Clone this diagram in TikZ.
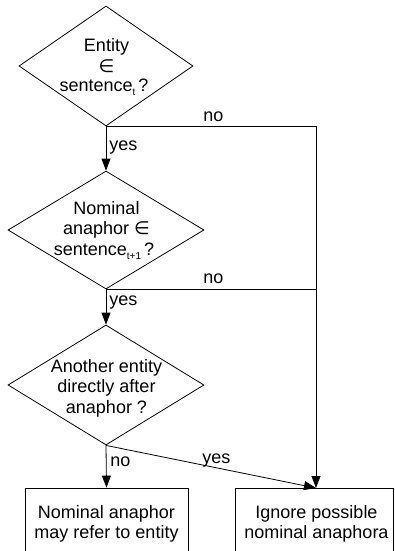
\documentclass[tikz,border=0pt]{standalone}
\usepackage{fontspec}
\setmainfont{Liberation Sans}
\newfontfamily\symfont{DejaVu Sans}
\usetikzlibrary{shapes.geometric,arrows.meta}
\newcommand{\sbs}[1]{\raisebox{-4pt}{\fontsize{10}{10}\selectfont #1}}
\begin{document}
\begin{tikzpicture}[x=1pt,y=-1pt,
  line width=0.8pt,
  dec/.style={draw, shape=diamond, inner sep=0pt, minimum width=#1},
  txt/.style={anchor=base, inner sep=0pt, font=\fontsize{18}{20}\selectfont},
  lbl/.style={anchor=base west, inner sep=0pt, font=\fontsize{18}{20}\selectfont},
  boxn/.style={draw, inner sep=0pt},
  arr/.style={-{Triangle[length=12pt,width=9pt]}}]
\clip (0,0) rectangle (394,551);
% diamonds
\node[dec=174pt, minimum height=120pt] (d1) at (106,66) {};
\node[txt] (t1a) at (106.5,52) {Entity};
\node[txt] (t1b) at (106.5,72) {\symfont ∈};
\node[txt] (t1c) at (104,92) {sentence\sbs{t}\,?};
\node[dec=196pt, minimum height=118pt] (d2) at (106,230) {};
\node[txt] (t2a) at (106.5,214) {Nominal};
\node[txt] (t2b) at (106.5,234) {anaphor {\symfont ∈}};
\node[txt] (t2c) at (104,255) {sentence\sbs{t+1}\,?};
\node[dec=196pt, minimum height=120pt] (d3) at (106,385) {};
\node[txt] (t3a) at (106.5,372) {Another entity};
\node[txt] (t3b) at (106.5,392) {directly after};
\node[txt] (t3c) at (106.5,413) {anaphor ?};
% boxes
\node[boxn, minimum width=163pt, minimum height=72pt] (l) at (106.5,524) {};
\node[txt] (l1) at (106.5,518) {Nominal anaphor};
\node[txt] (l2) at (106.5,538) {may refer to entity};
\node[boxn, minimum width=158pt, minimum height=72pt] (r) at (314,524) {};
\node[txt] (r1) at (316.5,518) {Ignore possible};
\node[txt] (r2) at (316.5,538) {nominal anaphora};
\coordinate (rin) at (316,488);
% connectors
\draw[arr] (d1.south) -- (d2.north);
\draw[arr] (d2.south) -- (d3.north);
\draw[arr] (d3.south) -- (l.north);
\draw[arr] (d1.south) -| (rin);
\draw (d2.south) -- (d2.south -| rin);
\draw[arr] (d3.south) -- (rin);
% labels
\node[lbl] (n1) at (203,121) {no};
\node[lbl] (y1) at (109,150) {yes};
\node[lbl] (n2) at (203,283) {no};
\node[lbl] (y2) at (109,305) {yes};
\node[lbl] (n3) at (110,466) {no};
\node[lbl] (y3) at (202,463) {yes};
\end{tikzpicture}
\end{document}
